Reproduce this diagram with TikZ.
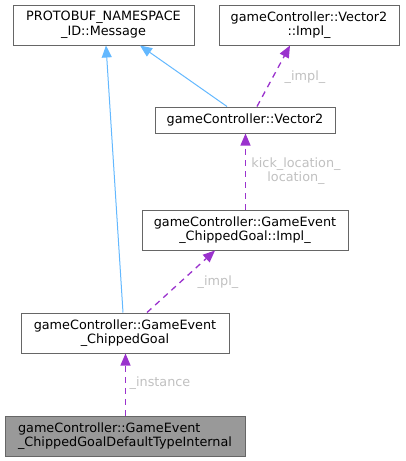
\documentclass[tikz,border=0pt]{standalone}
\usepackage{fontspec}
\setmainfont{DejaVu Sans}
\usetikzlibrary{arrows.meta,calc}
\definecolor{boxborder}{HTML}{666666}
\definecolor{dtifill}{HTML}{999999}
\definecolor{inhblue}{HTML}{63B8FF}
\definecolor{usepurple}{HTML}{9A32CD}
\definecolor{lblgray}{HTML}{C0C0C0}
\begin{document}
\begin{tikzpicture}[x=1pt,y=-1pt,
  cls/.style={draw=boxborder,line width=1pt,fill=white,inner sep=0pt,font=\fontsize{12.8}{14.5}\selectfont,align=center},
  inh/.style={color=inhblue,line width=1pt,-{Triangle[length=12pt,width=10pt]}},
  usage/.style={color=usepurple,line width=1.3pt,dash pattern=on 6pt off 5pt,-{Triangle[length=12pt,width=10pt]}},
  lbl/.style={text=lblgray,font=\fontsize{12.8}{14.5}\selectfont,align=center,inner sep=0pt}]
\useasboundingbox (0,0) rectangle (405,461);
\node[cls,minimum width=181pt,minimum height=40pt] (msg) at (103.5,25) {PROTOBUF\_NAMESPACE\\\_ID::Message};
\node[cls,minimum width=180pt,minimum height=40pt] (v2impl) at (309,25) {gameController::Vector2\\::Impl\_};
\node[cls,minimum width=180pt,minimum height=26pt] (v2) at (245,120) {gameController::Vector2};
\node[cls,minimum width=206pt,minimum height=40pt] (cgimpl) at (245,230) {gameController::GameEvent\\\_ChippedGoal::Impl\_};
\node[cls,minimum width=208pt,minimum height=40pt] (cg) at (125,333) {gameController::GameEvent\\\_ChippedGoal};
\node[cls,fill=dtifill,align=left,minimum width=240pt,minimum height=40pt] (dti) at (125,436) {gameController::GameEvent\\\_ChippedGoalDefaultTypeInternal};
\draw[inh] ([xshift=-2pt]cg.north) -- ([xshift=2.5pt]msg.south);
\draw[inh] ([xshift=-18pt]v2.north) -- ([xshift=36.5pt]msg.south);
\draw[usage] ([xshift=12pt]v2.north) -- ([xshift=-19pt]v2impl.south);
\draw[usage] ([xshift=0.5pt]cgimpl.north) -- ([xshift=0.5pt]v2.south);
\draw[usage] ([xshift=22pt]cg.north) -- ([xshift=-30pt]cgimpl.south);
\draw[usage] ([xshift=0.5pt]dti.north) -- ([xshift=0.5pt]cg.south);
\node[lbl] (l1) at (305,77) {\_impl\_};
\node[lbl] (l2) at (296,171) {kick\_location\_\\location\_};
\node[lbl] (l3) at (218,282) {\_impl\_};
\node[lbl] (l4) at (160,383) {\_instance};
\end{tikzpicture}
\end{document}
